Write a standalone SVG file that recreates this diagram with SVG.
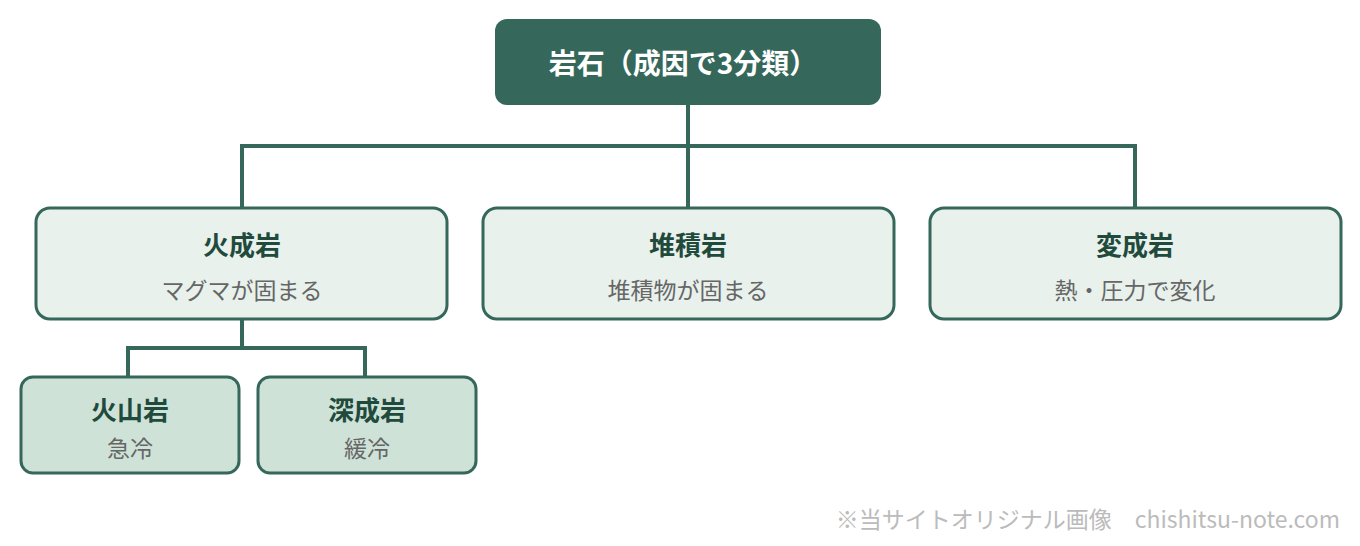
<svg xmlns="http://www.w3.org/2000/svg" width="1360" height="546" viewBox="0 0 1360 546">
<style>
.l{fill:#e8f1ec;stroke:#35685a;stroke-width:3}
.s{fill:#cfe2d8;stroke:#35685a;stroke-width:3}
.t{font-family:"Noto Sans CJK JP","Noto Sans",sans-serif;text-anchor:middle}
.h{font-weight:bold;fill:#1f4a3c;font-size:26px}
.d{fill:#666;font-size:23px}
.c{fill:none;stroke:#35685a;stroke-width:4}
</style>
<rect width="1360" height="546" fill="#fff"/>
<g id="connectors">
<path class="c" d="M688 104V146M242 146H1135M242 144V208M688 146V208M1135 144V208"/>
<path class="c" d="M242 320V348M128 348H365M128 346V377M365 346V377"/>
</g>
<g id="root"><rect x="495" y="19" width="386" height="86" rx="12" fill="#35685a"/>
<text class="t" x="683" y="74" font-size="28" font-weight="bold" fill="#fff">岩石（成因で3分類）</text></g>
<g id="igneous"><rect class="l" x="36" y="208" width="411" height="111" rx="14"/>
<text class="t h" x="242" y="255">火成岩</text><text class="t d" x="242" y="299">マグマが固まる</text></g>
<g id="sedimentary"><rect class="l" x="483" y="208" width="411" height="111" rx="14"/>
<text class="t h" x="688" y="255">堆積岩</text><text class="t d" x="688" y="299">堆積物が固まる</text></g>
<g id="metamorphic"><rect class="l" x="930" y="208" width="411" height="111" rx="14"/>
<text class="t h" x="1135" y="255">変成岩</text><text class="t d" x="1135" y="299">熱・圧力で変化</text></g>
<g id="volcanic"><rect class="s" x="21" y="377" width="218" height="96" rx="12"/>
<text class="t h" x="130" y="420" font-size="25">火山岩</text><text class="t d" x="130" y="457" font-size="21">急冷</text></g>
<g id="plutonic"><rect class="s" x="258" y="377" width="218" height="96" rx="12"/>
<text class="t h" x="367" y="420" font-size="25">深成岩</text><text class="t d" x="367" y="457" font-size="21">緩冷</text></g>
<text x="1340" y="528" text-anchor="end" font-family="Noto Sans CJK JP,sans-serif" font-size="23" fill="#bbb">※当サイトオリジナル画像　chishitsu-note.com</text>
</svg>
